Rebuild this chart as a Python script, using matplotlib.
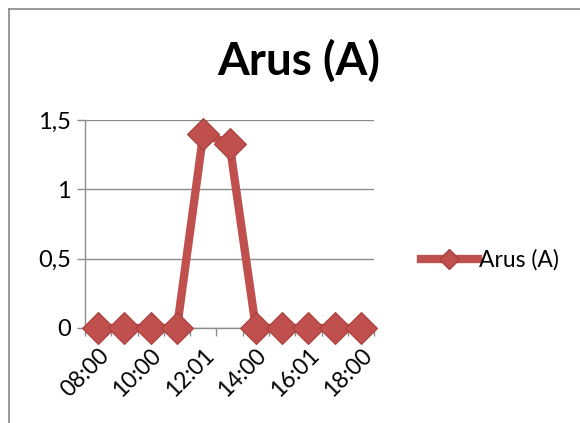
import matplotlib.pyplot as plt
from matplotlib.lines import Line2D

times = ['08:00', '09:00', '10:00', '11:00', '12:01', '13:00',
         '14:00', '15:00', '16:01', '17:00', '18:00']
arus = [0, 0, 0, 0, 1.4, 1.33, 0, 0, 0, 0, 0]

red = '#C0504D'
grid_gray = '#8C8C8C'
plt.rcParams['font.family'] = ['Lato', 'DejaVu Sans']

fig = plt.figure(figsize=(5.8, 4.23), dpi=100)
ax = fig.add_axes([0.1466, 0.2246, 0.4984, 0.4917])

x = list(range(len(times)))
ax.plot(x, arus, color=red, linewidth=6, marker='D', markersize=16,
        markerfacecolor=red, markeredgecolor='#A8403D', markeredgewidth=0.8,
        clip_on=False, zorder=3, solid_joinstyle='miter')

ax.set_xlim(-0.5, len(times) - 0.5)
ax.set_ylim(0, 1.5)
ax.set_yticks([0, 0.5, 1, 1.5])
ax.set_yticklabels(['0', '0,5', '1', '1,5'], fontsize=17)

# category labels on every other point, tick marks between categories
ax.set_xticks(x[::2])
ax.set_xticklabels(times[::2], rotation=45, ha='right', rotation_mode='anchor',
                   fontsize=16.5)
ax.tick_params(axis='x', length=0, pad=12)
ax.set_xticks([i - 0.5 for i in range(len(times) + 1)], minor=True)
ax.tick_params(axis='x', which='minor', length=6, color=grid_gray, width=1)
ax.tick_params(axis='y', length=6, color=grid_gray, width=1, pad=4)

ax.grid(axis='y', color=grid_gray, linewidth=1)
ax.set_axisbelow(True)
for side in ['top', 'right']:
    ax.spines[side].set_visible(False)
for side in ['left', 'bottom']:
    ax.spines[side].set_color(grid_gray)
    ax.spines[side].set_linewidth(1)

fig.text(0.515, 0.855, 'Arus (A)', ha='center', va='center', fontsize=33,
         fontweight='bold')

handle = Line2D([], [], color=red, linewidth=6, marker='D', markersize=10,
                markerfacecolor=red, markeredgecolor='#A8403D')
fig.legend([handle], ['Arus (A)'], loc='center left',
           bbox_to_anchor=(0.69, 0.385), frameon=False, fontsize=16.5,
           handlelength=2.5, handletextpad=0.05)

# outer chart border (cropped on right and bottom)
fig.add_artist(Line2D([9 / 580, 9 / 580], [0, 1 - 9 / 423], color='#888888',
                      linewidth=1.2, transform=fig.transFigure))
fig.add_artist(Line2D([9 / 580, 1], [1 - 9 / 423, 1 - 9 / 423], color='#888888',
                      linewidth=1.2, transform=fig.transFigure))

fig.savefig('out.png', dpi=100)
